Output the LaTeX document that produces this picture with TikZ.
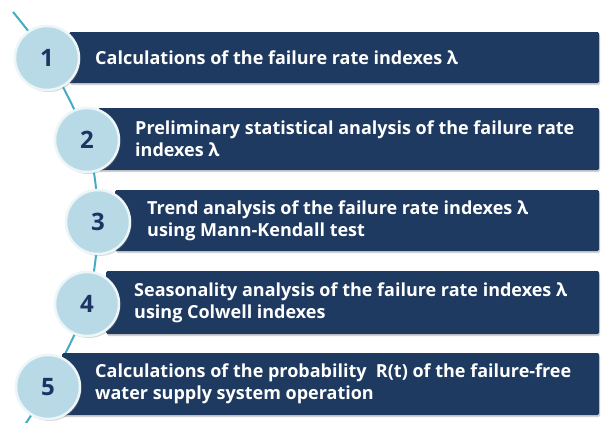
\documentclass[tikz,border=0pt]{standalone}
\usepackage{fontspec}
\setmainfont{Open Sans}
\usetikzlibrary{shadows}
\definecolor{barnavy}{RGB}{30,58,96}
\definecolor{discblue}{RGB}{184,218,230}
\definecolor{discrim}{RGB}{236,245,248}
\definecolor{spineteal}{RGB}{70,172,196}
\definecolor{numnavy}{RGB}{28,52,100}
\tikzset{
	stepbar/.style={fill=barnavy, draw=none, rounded corners=1.5pt, anchor=west,
		drop shadow={opacity=0.35, shadow xshift=1pt, shadow yshift=-2pt}},
	steptext/.style={anchor=west, text=white, align=left, inner sep=0pt,
		font=\fontsize{18}{22}\selectfont\bfseries},
	stepdisc/.style={circle, minimum size=64pt, inner sep=0pt, fill=discblue,
		draw=discrim, line width=2.5pt, text=numnavy,
		font=\fontsize{24}{28}\selectfont\bfseries,
		drop shadow={opacity=0.3, shadow xshift=1.5pt, shadow yshift=-2pt}},
	spine/.style={draw=spineteal, line width=2pt}
}

\begin{document}
\begin{tikzpicture}[x=1pt, y=-1pt]
	%%%%% START %%%%%
	\useasboundingbox[fill=white] (0,0) rectangle (603,423);
	
	\coordinate (top) at (13,12);
	\coordinate (p1) at (47,58);
	\coordinate (p2) at (87,140);
	\coordinate (p3) at (98,222);
	\coordinate (p4) at (87,304);
	\coordinate (p5) at (48,387);
	\coordinate (bottom) at (24,426);
	
	% the curved line behind everything
	\draw[spine] plot[smooth] coordinates {(top) (p1) (p2) (p3) (p4) (p5) (bottom)};
	
	% bars
	\node[stepbar, minimum width=530pt, minimum height=51pt] (b1) at (69,57.5) {};
	\node[stepbar, minimum width=501pt, minimum height=62pt] (b2) at (98,139) {};
	\node[stepbar, minimum width=484pt, minimum height=61pt] (b3) at (115,220.5) {};
	\node[stepbar, minimum width=493pt, minimum height=63pt] (b4) at (106,302.5) {};
	\node[stepbar, minimum width=537pt, minimum height=62pt] (b5) at (62,384) {};
	
	% texts
	\node[steptext] (t1) at (95,57.5) {Calculations of the failure rate indexes λ};
	\node[steptext] (t2) at (135,139) {Preliminary statistical analysis of the failure rate\\indexes λ};
	\node[steptext] (t3) at (147,220.5) {Trend analysis of the failure rate indexes λ\\using Mann-Kendall test};
	\node[steptext] (t4) at (134,302.5) {Seasonality analysis of the failure rate indexes λ\\using Colwell indexes};
	\node[steptext] (t5) at (95,384) {Calculations of the probability\ \ R(t) of the failure-free\\water supply system operation};
	
	% numbered discs
	\node[stepdisc] (c1) at (p1) {1};
	\node[stepdisc] (c2) at (p2) {2};
	\node[stepdisc] (c3) at (p3) {3};
	\node[stepdisc] (c4) at (p4) {4};
	\node[stepdisc] (c5) at (p5) {5};
	
	%%%%% END %%%%%
\end{tikzpicture}
\end{document}
